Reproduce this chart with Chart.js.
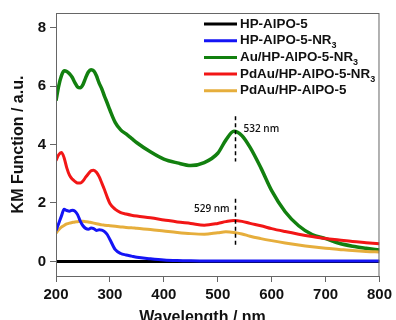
<!DOCTYPE html>
<html>
<head>
<meta charset="utf-8">
<script src="https://cdn.jsdelivr.net/npm/chart.js@4.4.1/dist/chart.umd.min.js"></script>
<style>
  html, body { margin: 0; padding: 0; background: #fff; }
  #wrap { width: 396px; height: 320px; }
</style>
</head>
<body>
<div id="wrap"><canvas id="kmChart" width="396" height="320"></canvas></div>
<script>
// wavelength grid (nm) shared by all spectra
const wavelengths = [200, 205, 210, 215, 220, 225, 230, 235, 240, 245, 250, 255, 260, 265, 270, 275, 280, 285, 290, 295,
  300, 310, 320, 330, 340, 350, 375, 400, 425, 450, 475, 500, 515, 530, 545, 560, 580, 600, 625, 650, 675, 700, 725, 750, 775, 800];

const hpAlpo = [0, 0, 0, 0, 0, 0, 0, 0, 0, 0, 0, 0, 0, 0, 0, 0, 0, 0, 0, 0,
  0, 0, 0, 0, 0, 0, 0, 0, 0, 0, 0, 0, 0, 0, 0, 0, 0, 0, 0, 0, 0, 0, 0, 0, 0, 0];
const hpAlpoNR3 = [1.05, 1.3, 1.55, 1.78, 1.74, 1.72, 1.75, 1.72, 1.6, 1.38, 1.22, 1.13, 1.1, 1.14, 1.12, 1.06, 1.08, 1.07, 1.02, 0.92,
  0.75, 0.4, 0.27, 0.22, 0.18, 0.14, 0.09, 0.05, 0.03, 0.02, 0.015, 0.01, 0.01, 0.01, 0.01, 0.01, 0.01, 0.01, 0.01, 0.01, 0.01, 0.01, 0.01, 0.01, 0.01, 0.01];
const auNR3 = [5.5, 6.0, 6.35, 6.52, 6.5, 6.42, 6.3, 6.12, 5.97, 5.94, 6.05, 6.28, 6.48, 6.56, 6.52, 6.35, 6.1, 5.9, 5.65, 5.42,
  5.18, 4.75, 4.5, 4.36, 4.21, 4.06, 3.75, 3.5, 3.37, 3.28, 3.38, 3.7, 4.15, 4.45, 4.3, 3.9, 3.2, 2.42, 1.7, 1.22, 0.92, 0.78, 0.62, 0.52, 0.45, 0.39];
const pdauNR3 = [3.45, 3.65, 3.73, 3.55, 3.2, 2.95, 2.82, 2.74, 2.68, 2.68, 2.75, 2.88, 3.0, 3.1, 3.12, 3.05, 2.9, 2.68, 2.45, 2.2,
  1.98, 1.78, 1.67, 1.62, 1.58, 1.55, 1.49, 1.42, 1.35, 1.3, 1.24, 1.3, 1.36, 1.4, 1.37, 1.3, 1.22, 1.12, 1.02, 0.93, 0.85, 0.78, 0.73, 0.68, 0.64, 0.6];
const pdau = [0.97, 1.08, 1.17, 1.23, 1.28, 1.31, 1.33, 1.35, 1.36, 1.37, 1.37, 1.36, 1.35, 1.33, 1.31, 1.29, 1.27, 1.25, 1.24, 1.23,
  1.22, 1.2, 1.18, 1.16, 1.15, 1.13, 1.09, 1.04, 0.99, 0.95, 0.93, 0.98, 1.01, 0.99, 0.94, 0.86, 0.78, 0.71, 0.63, 0.56, 0.5, 0.45, 0.41, 0.37, 0.34, 0.32];

const seriesLabels = ['HP-AlPO-5', 'HP-AlPO-5-NR₃', 'Au/HP-AlPO-5-NR₃', 'PdAu/HP-AlPO-5-NR₃', 'PdAu/HP-AlPO-5'];
const seriesData = [hpAlpo, hpAlpoNR3, auNR3, pdauNR3, pdau];
const seriesColors = ['#000000', '#1414f5', '#12800f', '#f21616', '#e6ae3c'];
const drawOrder = [5, 2, 4, 1, 3]; // lower = drawn on top

const xTicks = [200, 300, 400, 500, 600, 700, 800];
const yTicks = [0, 2, 4, 6, 8];

// peak markers: wavelength, from, to, label, label anchor
const peakX = [532, 532];
const peakFrom = [3.42, 0.52];
const peakTo = [4.97, 2.14];
const peakText = ['532 nm', '529 nm'];
const peakTextPos = [[548, 4.53, 'left'], [522, 1.79, 'right']];

const FONT = '"Liberation Sans", Arial, sans-serif';

const framePlugin = {
    id: 'frame',
    afterDatasetsDraw(chart) {
        const ctx = chart.ctx;
        const a = chart.chartArea;
        const xs = chart.scales.x, ys = chart.scales.y;
        ctx.save();
        // dashed peak markers
        ctx.strokeStyle = '#000';
        ctx.lineWidth = 1.5;
        ctx.setLineDash([4, 3]);
        peakX.forEach((px, i) => {
            const x = Math.round(xs.getPixelForValue(px)) + 0.5;
            ctx.beginPath();
            ctx.moveTo(x, ys.getPixelForValue(peakTo[i]));
            ctx.lineTo(x, ys.getPixelForValue(peakFrom[i]));
            ctx.stroke();
        });
        ctx.setLineDash([]);
        ctx.fillStyle = '#111';
        ctx.font = '600 10px "Open Sans", sans-serif';
        ctx.textBaseline = 'middle';
        peakText.forEach((t, i) => {
            const p = peakTextPos[i];
            ctx.textAlign = p[2];
            ctx.fillText(t, xs.getPixelForValue(p[0]), ys.getPixelForValue(p[1]));
        });

        // frame
        ctx.strokeStyle = '#666';
        ctx.lineWidth = 1;
        ctx.strokeRect(a.left + 0.5, a.top + 0.5, a.right - a.left - 1, a.bottom - a.top);

        // legend inside plot
        ctx.textAlign = 'left';
        seriesLabels.forEach((lab, i) => {
            const y = 24 + i * 16.7;
            ctx.strokeStyle = seriesColors[i];
            ctx.lineWidth = 3;
            ctx.beginPath();
            ctx.moveTo(204, y);
            ctx.lineTo(237, y);
            ctx.stroke();
            ctx.fillStyle = '#111';
            ctx.font = 'bold 13.4px ' + FONT;
            ctx.textBaseline = 'middle';
            if (lab.endsWith('₃')) {
                const base = lab.slice(0, -1);
                ctx.fillText(base, 240, y);
                const w = ctx.measureText(base).width;
                ctx.font = 'bold 9px ' + FONT;
                ctx.fillText('3', 240 + w, y + 5);
            } else {
                ctx.fillText(lab, 240, y);
            }
        });

        // x axis title (sits a little left of centre in the original)
        ctx.fillStyle = '#111';
        ctx.font = 'bold 16px ' + FONT;
        ctx.textAlign = 'center';
        ctx.textBaseline = 'alphabetic';
        ctx.fillText('Wavelength / nm', 202.5, 321.5);
        ctx.restore();
    }
};

const datasets = seriesLabels.map((lab, i) => ({
    label: lab,
    data: wavelengths.map((w, j) => ({ x: w, y: seriesData[i][j] })),
    borderColor: seriesColors[i],
    borderWidth: i === 2 ? 3.5 : 3,
    pointRadius: 0,
    fill: false,
    cubicInterpolationMode: 'monotone',
    order: drawOrder[i]
}));

new Chart(document.getElementById('kmChart'), {
    type: 'line',
    data: { datasets: datasets },
    options: {
        responsive: false,
        animation: false,
        events: [],
        layout: { padding: { top: 13, right: 14, left: 0, bottom: 0 } },
        plugins: {
            legend: { display: false },
            tooltip: { enabled: false }
        },
        scales: {
            x: {
                type: 'linear',
                min: 200,
                max: 800,
                afterBuildTicks: s => { s.ticks = xTicks.map(v => ({ value: v })); },
                afterFit: s => { s.height = 44; },
                border: { display: false },
                grid: { drawOnChartArea: false, drawTicks: true, tickLength: 6, tickColor: '#666' },
                ticks: { color: '#111', padding: 4, maxRotation: 0, font: { family: FONT, size: 15, weight: 'bold' } }
            },
            y: {
                min: -0.5,
                max: 8.5,
                afterBuildTicks: s => { s.ticks = yTicks.map(v => ({ value: v })); },
                afterFit: s => { s.width = 56; },
                border: { display: false },
                grid: { drawOnChartArea: false, drawTicks: true, tickLength: 6, tickColor: '#666' },
                ticks: { color: '#111', padding: 4, font: { family: FONT, size: 15, weight: 'bold' } },
                title: {
                    display: true,
                    text: 'KM Function / a.u.',
                    color: '#111',
                    padding: { top: 9, bottom: 0 },
                    font: { family: FONT, size: 16, weight: 'bold' }
                }
            }
        }
    },
    plugins: [framePlugin]
});
</script>
</body>
</html>
